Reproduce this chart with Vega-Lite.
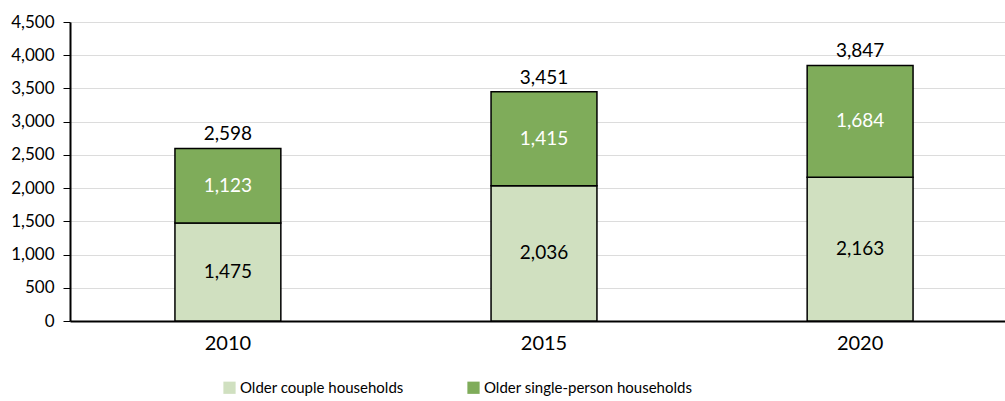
{
  "$schema": "https://vega.github.io/schema/vega-lite/v6.json",
  "width": 935,
  "height": 299,
  "autosize": {"type": "none"},
  "padding": {"left": 70, "top": 22, "right": 0, "bottom": 80},
  "background": "white",
  "config": {
    "font": "Lato",
    "view": {"stroke": null},
    "axis": {"labelFont": "Lato", "labelColor": "#000000"},
    "legend": {"labelFont": "Lato"}
  },
  "data": {
    "values": [
      {"year": "2010", "series": "Older couple households", "value": 1475},
      {"year": "2010", "series": "Older single-person households", "value": 1123},
      {"year": "2015", "series": "Older couple households", "value": 2036},
      {"year": "2015", "series": "Older single-person households", "value": 1415},
      {"year": "2020", "series": "Older couple households", "value": 2163},
      {"year": "2020", "series": "Older single-person households", "value": 1684}
    ]
  },
  "encoding": {
    "x": {
      "field": "year",
      "type": "nominal",
      "title": null,
      "scale": {"paddingInner": 0.665, "paddingOuter": 0.332, "range": [0, 948]},
      "axis": {"labelAngle": 0, "ticks": false, "domainColor": "#000000", "domainWidth": 2, "labelFontSize": 20, "labelPadding": 12}
    }
  },
  "layer": [
    {
      "mark": {"type": "bar", "stroke": "#000000", "strokeWidth": 1.5},
      "encoding": {
        "y": {
          "field": "value",
          "type": "quantitative",
          "stack": "zero",
          "title": null,
          "scale": {"domain": [0, 4500]},
          "axis": {"values": [0, 500, 1000, 1500, 2000, 2500, 3000, 3500, 4000, 4500], "format": ",d", "labelOverlap": false, "gridColor": "#dcdcdc", "gridWidth": 1, "domainColor": "#000000", "domainWidth": 2, "tickColor": "#000000", "tickSize": 7, "labelFontSize": 17, "labelPadding": 9}
        },
        "color": {
          "field": "series",
          "type": "nominal",
          "scale": {"domain": ["Older couple households", "Older single-person households"], "range": ["#d0e0c0", "#7fac5a"]},
          "legend": {
            "title": null,
            "orient": "none",
            "direction": "horizontal",
            "legendX": 152,
            "legendY": 358,
            "symbolType": "square",
            "symbolSize": 150,
            "symbolStrokeWidth": 0,
            "labelFontSize": 15,
            "labelOffset": 3,
            "labelColor": "#000000",
            "columnPadding": 62,
            "labelLimit": 400
          }
        },
        "order": {"field": "series", "sort": "ascending"}
      }
    },
    {
      "transform": [
        {"stack": "value", "groupby": ["year"], "sort": [{"field": "series", "order": "ascending"}], "as": ["v0", "v1"]},
        {"fold": ["v0", "v1"], "as": ["edge", "pos"]}
      ],
      "mark": {"type": "text", "fontSize": 19, "baseline": "middle"},
      "encoding": {
        "y": {"aggregate": "mean", "field": "pos", "type": "quantitative", "title": null,
          "axis": {"values": [0, 500, 1000, 1500, 2000, 2500, 3000, 3500, 4000, 4500], "format": ",d", "labelOverlap": false, "gridColor": "#dcdcdc", "gridWidth": 1, "domainColor": "#000000", "domainWidth": 2, "tickColor": "#000000", "tickSize": 7, "labelFontSize": 17, "labelPadding": 9}},
        "text": {"field": "value", "type": "quantitative", "format": ","},
        "detail": {"field": "series"},
        "color": {"condition": {"test": "datum.series === 'Older single-person households'", "value": "#ffffff"}, "value": "#000000"}
      }
    },
    {
      "transform": [
        {"aggregate": [{"op": "sum", "field": "value", "as": "total"}], "groupby": ["year"]}
      ],
      "mark": {"type": "text", "fontSize": 19, "baseline": "bottom", "dy": -4, "color": "#000000"},
      "encoding": {
        "y": {"field": "total", "type": "quantitative", "title": null,
          "axis": {"values": [0, 500, 1000, 1500, 2000, 2500, 3000, 3500, 4000, 4500], "format": ",d", "labelOverlap": false, "gridColor": "#dcdcdc", "gridWidth": 1, "domainColor": "#000000", "domainWidth": 2, "tickColor": "#000000", "tickSize": 7, "labelFontSize": 17, "labelPadding": 9}},
        "text": {"field": "total", "type": "quantitative", "format": ","}
      }
    }
  ]
}
